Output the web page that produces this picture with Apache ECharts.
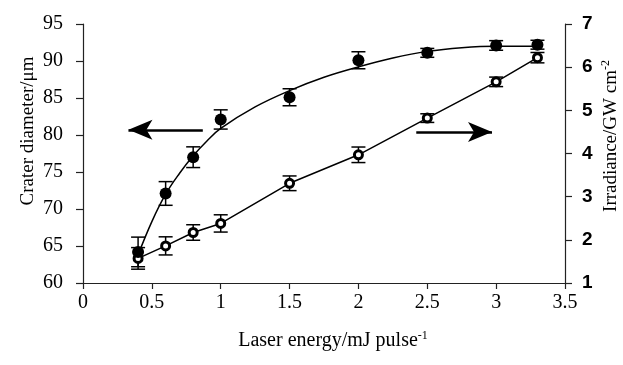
<!DOCTYPE html>
<html><head><meta charset="utf-8">
<script src="https://cdn.jsdelivr.net/npm/echarts@6/dist/echarts.min.js"></script>
<style>html,body{margin:0;padding:0;background:#fff}#c{width:623px;height:365px}</style>
</head><body><div id="c"></div>
<script>
// Laser energy (mJ pulse^-1)
const energy = [0.4, 0.6, 0.8, 1.0, 1.5, 2.0, 2.5, 3.0, 3.3];
// Crater diameter (µm), left axis
const diameter = [64.2, 72.1, 77.0, 82.1, 85.1, 90.1, 91.1, 92.1, 92.2];
const diameterErr = [2.0, 1.6, 1.4, 1.3, 1.15, 1.15, 0.6, 0.65, 0.6];
// Irradiance (GW cm^-2), right axis
const irradiance = [1.57, 1.86, 2.17, 2.38, 3.31, 3.97, 4.82, 5.66, 6.22];
const irradianceErr = [0.25, 0.21, 0.18, 0.2, 0.17, 0.18, 0.1, 0.11, 0.12];
// Fitted trend curve for crater diameter
const trendX = [0.4, 0.5, 0.6, 0.7, 0.8, 0.9, 1.0, 1.25, 1.5, 1.75, 2.0, 2.25, 2.5, 2.75, 3.0, 3.3];
const trendY = [63.8, 68.3, 72.0, 74.8, 77.2, 79.2, 80.9, 83.8, 86.0, 87.8, 89.2, 90.4, 91.3, 91.8, 92.0, 92.0];
// Axis ticks
const xTicks = [0, 0.5, 1, 1.5, 2, 2.5, 3, 3.5];
const leftTicks = [60, 65, 70, 75, 80, 85, 90, 95];
const rightTicks = [1, 2, 3, 4, 5, 6, 7];

const chart = echarts.init(document.getElementById('c'));
const serif = 'Liberation Serif';
const sans = 'Liberation Sans';

function errSeries(vals, errs, yIdx) {
  return {
    type: 'custom', yAxisIndex: yIdx, z: 1, silent: true,
    data: energy.map((x, i) => [x, vals[i] - errs[i], vals[i] + errs[i]]),
    renderItem: function (params, api) {
      const lo = api.coord([api.value(0), api.value(1)]);
      const hi = api.coord([api.value(0), api.value(2)]);
      const w = 7;
      const st = { stroke: '#000', lineWidth: 1.5 };
      return { type: 'group', children: [
        { type: 'line', shape: { x1: lo[0], y1: lo[1], x2: hi[0], y2: hi[1] }, style: st },
        { type: 'line', shape: { x1: lo[0] - w, y1: lo[1], x2: lo[0] + w, y2: lo[1] }, style: st },
        { type: 'line', shape: { x1: hi[0] - w, y1: hi[1], x2: hi[0] + w, y2: hi[1] }, style: st }
      ]};
    }
  };
}

chart.setOption({
  animation: false,
  backgroundColor: '#fff',
  grid: { left: 83, right: 58, top: 24, bottom: 82 },
  xAxis: {
    type: 'value', min: 0, max: 3.5, interval: 0.5,
    axisLine: { lineStyle: { color: '#222', width: 1.2 } },
    axisTick: { length: 6, lineStyle: { color: '#222', width: 1.2 } },
    splitLine: { show: false },
    axisLabel: { fontFamily: serif, fontSize: 20, color: '#000', margin: 10,
      formatter: v => xTicks.includes(v) ? String(v) : '' }
  },
  yAxis: [
    { type: 'value', min: 60, max: 95, interval: 5, position: 'left',
      axisLine: { show: true, lineStyle: { color: '#222', width: 1.2 } },
      axisTick: { show: true, length: 7, lineStyle: { color: '#222', width: 1.2 } },
      splitLine: { show: false },
      axisLabel: { fontFamily: serif, fontSize: 20, color: '#000', margin: 20,
        formatter: v => leftTicks.includes(v) ? String(v) : '' } },
    { type: 'value', min: 1, max: 7, interval: 1, position: 'right',
      axisLine: { show: true, lineStyle: { color: '#222', width: 1.2 } },
      axisTick: { show: true, length: 7, lineStyle: { color: '#222', width: 1.2 } },
      splitLine: { show: false },
      axisLabel: { fontFamily: sans, fontWeight: 'bold', fontSize: 19, color: '#000', margin: 17,
        formatter: v => rightTicks.includes(v) ? String(v) : '' } }
  ],
  series: [
    errSeries(diameter, diameterErr, 0),
    errSeries(irradiance, irradianceErr, 1),
    { type: 'line', yAxisIndex: 0, smooth: 0.4, showSymbol: false, z: 2,
      data: trendX.map((x, i) => [x, trendY[i]]),
      lineStyle: { color: '#000', width: 1.5 },
      markLine: {
        silent: true, symbol: ['none', 'arrow'], symbolSize: [15, 24],
        label: { show: false },
        lineStyle: { color: '#000', width: 2.5, type: 'solid' },
        data: [[{ coord: [0.87, 80.7] }, { coord: [0.33, 80.7] }]]
      } },
    { type: 'line', yAxisIndex: 1, z: 3, symbol: 'circle', symbolSize: 8,
      data: energy.map((x, i) => [x, irradiance[i]]),
      lineStyle: { color: '#000', width: 1.5 },
      itemStyle: { color: '#fff', borderColor: '#000', borderWidth: 3 },
      markLine: {
        silent: true, symbol: ['none', 'arrow'], symbolSize: [15, 24],
        label: { show: false },
        lineStyle: { color: '#000', width: 2.5, type: 'solid' },
        data: [[{ coord: [2.42, 4.5] }, { coord: [2.97, 4.5] }]]
      } },
    { type: 'scatter', yAxisIndex: 0, z: 4, symbol: 'circle', symbolSize: 12,
      data: energy.map((x, i) => [x, diameter[i]]),
      itemStyle: { color: '#000', opacity: 1 } }
  ],
  graphic: [
    { type: 'text', x: 333, y: 341, style: { text: 'Laser energy/mJ pulse{s|-1}',
      rich: { s: { fontSize: 12, verticalAlign: 'top', padding: [0, 0, 10, 0], fontFamily: serif, fill: '#000' } },
      font: '20px "Liberation Serif"', fill: '#000', align: 'center', verticalAlign: 'middle' } },
    { type: 'text', x: 28, y: 131, rotation: Math.PI / 2, style: { text: 'Crater diameter/μm',
      font: '19px "Liberation Serif"', fill: '#000', align: 'center', verticalAlign: 'middle' } },
    { type: 'text', x: 611, y: 136, rotation: Math.PI / 2, style: { text: 'Irradiance/GW cm{s|-2}',
      rich: { s: { fontSize: 12, padding: [0, 0, 10, 0], fontFamily: serif, fill: '#000' } },
      font: '19px "Liberation Serif"', fill: '#000', align: 'center', verticalAlign: 'middle' } }
  ]
});
</script></body></html>
